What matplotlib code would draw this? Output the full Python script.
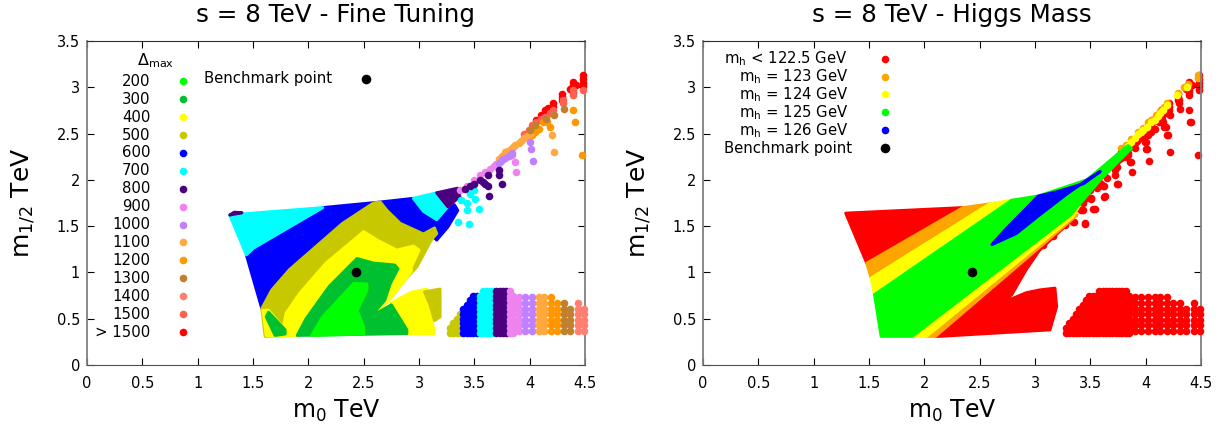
import matplotlib
matplotlib.use('Agg')
import matplotlib.pyplot as plt

# tick labels
xticks = [0, 0.5, 1, 1.5, 2, 2.5, 3, 3.5, 4, 4.5]
yticks = [0, 0.5, 1, 1.5, 2, 2.5, 3, 3.5]
xlabels = ['0', '0.5', '1', '1.5', '2', '2.5', '3', '3.5', '4', '4.5']
ylabels = ['0', '0.5', '1', '1.5', '2', '2.5', '3', '3.5']

benchmark = (2.43, 1.0)

# fine tuning bands
delta_labels = ['200', '300', '400', '500', '600', '700', '800', '900', '1000',
                '1100', '1200', '1300', '1400', '1500', '> 1500']
delta_colors = ['#00ff00', '#00c030', '#ffff00', '#c8c800', '#0000ff', '#00ffff',
                '#4b0082', '#ee82ee', '#c080ff', '#ffa840', '#ff9800', '#c08030',
                '#ff8070', '#ff6050', '#ff0000']

# higgs mass bands
mh_labels = ['m$_{\\mathrm{h}}$ < 122.5 GeV', 'm$_{\\mathrm{h}}$ = 123 GeV',
             'm$_{\\mathrm{h}}$ = 124 GeV', 'm$_{\\mathrm{h}}$ = 125 GeV',
             'm$_{\\mathrm{h}}$ = 126 GeV']
mh_colors = ['#ff0000', '#ffa500', '#ffff00', '#00ff00', '#0000ff']

# left panel, dense areas (m0, m1/2), back to front
ft_blue = [(1.44, 1.19), (2.13, 1.70), (2.65, 1.76), (2.95, 1.80), (3.16, 1.57), (3.32, 1.73),
           (3.35, 1.67), (3.26, 1.49), (3.16, 1.35), (3.10, 1.42), (2.60, 1.40), (1.58, 0.61)]
ft_cyan1 = [(1.29, 1.62), (2.13, 1.70), (1.50, 1.26), (1.44, 1.19)]
ft_cyan2 = [(2.95, 1.80), (3.16, 1.86), (3.26, 1.71), (3.16, 1.57), (3.04, 1.66)]
ft_purple1 = [(3.16, 1.86), (3.35, 1.91), (3.37, 1.82), (3.26, 1.71)]
ft_purple2 = [(1.29, 1.62), (1.40, 1.645), (1.33, 1.65)]
ft_olive = [(1.58, 0.61), (1.67, 0.81), (1.83, 1.03), (2.07, 1.28), (2.31, 1.53), (2.59, 1.75),
            (2.65, 1.76), (2.71, 1.67), (2.83, 1.53), (3.04, 1.415), (3.14, 1.48), (3.16, 1.42),
            (3.11, 1.35), (2.98, 1.06), (2.84, 0.88), (2.77, 0.76), (2.71, 0.68), (2.56, 0.52),
            (1.90, 0.32), (1.61, 0.31)]
ft_olive2 = [(3.05, 0.79), (3.19, 0.82), (3.19, 0.52), (3.14, 0.48), (3.10, 0.65)]
ft_yellow1 = [(1.59, 0.59), (1.64, 0.59), (1.79, 0.38), (1.79, 0.32), (1.70, 0.31), (1.62, 0.32)]
ft_yellow2 = [(1.77, 0.38), (1.80, 0.56), (1.92, 0.77), (2.16, 1.10), (2.50, 1.44), (2.62, 1.35),
              (2.80, 1.24), (2.95, 1.285), (3.00, 1.24), (2.93, 1.06), (2.93, 1.01), (2.77, 0.76),
              (2.71, 0.68), (2.56, 0.52), (1.90, 0.32), (1.77, 0.32)]
ft_yellow3 = [(2.75, 0.67), (2.93, 0.785), (3.07, 0.82), (3.11, 0.52), (3.14, 0.34), (2.89, 0.335),
              (2.89, 0.38)]
ft_dgreen = [(1.90, 0.32), (1.98, 0.50), (2.19, 0.85), (2.44, 1.15), (2.59, 1.10), (2.78, 1.08),
             (2.81, 1.04), (2.74, 0.88), (2.69, 0.70), (2.56, 0.52), (2.75, 0.65), (2.89, 0.38),
             (2.89, 0.34)]
ft_dgreen2 = [(1.64, 0.57), (1.79, 0.38), (1.79, 0.335), (1.70, 0.32), (1.62, 0.52)]
ft_green = [(2.03, 0.32), (2.13, 0.52), (2.41, 0.88), (2.53, 0.875), (2.53, 0.81), (2.44, 0.59),
            (2.50, 0.41), (2.50, 0.335)]

# right panel, dense areas
mh_red1 = [(1.29, 1.64), (2.35, 1.70), (1.48, 1.10)]
mh_orange1 = [(1.48, 1.10), (2.35, 1.70), (2.59, 1.74), (1.52, 0.94)]
mh_yellow1 = [(1.52, 0.94), (2.59, 1.74), (2.79, 1.78), (1.55, 0.76)]
mh_green = [(1.55, 0.76), (2.79, 1.78), (3.03, 1.825), (3.47, 2.00), (3.84, 2.37), (3.87, 2.34),
            (3.59, 2.00), (3.32, 1.62), (1.89, 0.31), (1.61, 0.31)]
mh_yellow2 = [(1.89, 0.31), (2.11, 0.52), (2.56, 0.94), (3.32, 1.62), (3.40, 1.72), (3.34, 1.60),
              (2.02, 0.31)]
mh_orange2 = [(2.02, 0.31), (3.34, 1.60), (3.38, 1.62), (2.10, 0.31)]
mh_red2 = [(2.10, 0.31), (3.345, 1.58), (3.04, 1.24), (2.92, 1.03), (2.79, 0.76), (2.55, 0.52),
           (2.74, 0.69), (2.92, 0.78), (3.04, 0.81), (3.18, 0.83), (3.195, 0.63), (3.135, 0.38),
           (2.14, 0.31)]
mh_blue = [(2.61, 1.30), (2.73, 1.46), (3.03, 1.825), (3.195, 1.87), (3.44, 1.96), (3.59, 2.09),
           (3.47, 2.00), (3.29, 1.85), (3.04, 1.62), (2.83, 1.42)]

# scan points at large m0 along the upper ridge
ridge_700 = [(3.35, 1.55), (3.45, 1.52), (3.43, 1.67), (3.54, 1.68), (3.51, 1.79), (3.43, 1.75),
             (3.50, 1.89), (3.38, 1.78), (3.46, 1.85)]
ridge_800 = [(3.75, 1.95), (3.72, 2.05), (3.72, 2.11), (3.63, 1.83), (3.62, 1.93), (3.62, 2.05),
             (3.55, 2.00), (3.46, 1.93), (3.50, 1.96), (3.58, 1.98), (3.60, 1.95), (3.42, 1.90)]
ridge_900 = [(3.88, 2.08), (3.87, 2.19), (3.84, 2.27), (3.37, 1.89), (3.43, 1.93), (3.50, 2.00),
             (3.55, 2.05), (3.60, 2.09), (3.64, 2.12), (3.68, 2.15), (3.70, 2.17), (3.74, 2.20)]
ridge_1000 = [(4.03, 2.20), (4.01, 2.33), (4.00, 2.41), (3.72, 2.18), (3.76, 2.22), (3.78, 2.24),
              (3.81, 2.26), (3.84, 2.29)]
ridge_1100 = [(4.22, 2.30), (4.20, 2.48), (3.72, 2.22), (3.75, 2.26), (3.78, 2.30), (3.80, 2.31),
              (3.83, 2.33), (3.85, 2.36), (3.87, 2.38), (3.90, 2.40), (3.92, 2.42), (3.95, 2.45),
              (3.98, 2.47), (4.00, 2.50)]
ridge_1200 = [(4.47, 2.27), (4.41, 2.62), (4.39, 2.75), (4.18, 2.57), (4.16, 2.63), (4.12, 2.62),
              (4.08, 2.55), (4.05, 2.52), (4.02, 2.48)]
ridge_1300 = [(4.31, 2.77), (4.22, 2.70), (4.15, 2.66), (4.05, 2.59), (4.00, 2.54)]
ridge_1500 = [(4.48, 2.97), (4.39, 2.97), (4.39, 2.92), (4.30, 2.86), (4.30, 2.83), (4.21, 2.75),
              (4.18, 2.72), (4.14, 2.68), (4.10, 2.66), (4.06, 2.63), (4.02, 2.59), (3.99, 2.54),
              (3.95, 2.50)]
ridge_red = [(4.48, 3.13), (4.48, 3.09), (4.48, 3.05), (4.48, 3.01), (4.39, 3.06), (4.39, 3.02),
             (4.42, 3.03), (4.36, 2.98), (4.39, 2.95), (4.29, 2.93), (4.29, 2.89), (4.29, 2.86),
             (4.21, 2.83), (4.21, 2.79), (4.17, 2.78), (4.14, 2.75), (4.14, 2.71), (4.14, 2.68),
             (4.10, 2.70), (4.06, 2.65)]

# extra red points, higgs panel only
mh_ridge_red = [(3.07, 1.30), (3.16, 1.39), (3.27, 1.51), (3.345, 1.55), (3.45, 1.53), (3.42, 1.67),
                (3.525, 1.68), (3.51, 1.80), (3.62, 1.82), (3.61, 1.93), (3.74, 1.95), (3.86, 2.19),
                (3.99, 2.41), (4.00, 2.33), (4.19, 2.48), (4.17, 2.57), (4.40, 2.62), (3.30, 1.60),
                (3.38, 1.70), (3.47, 1.80), (3.56, 1.91), (3.65, 2.02), (3.74, 2.14), (3.82, 2.25),
                (3.90, 2.34)]
mh_ridge_orange = [(3.78, 2.34), (3.82, 2.38), (3.87, 2.44), (3.93, 2.52), (3.98, 2.56), (4.02, 2.62),
                   (4.05, 2.65), (4.09, 2.70), (4.13, 2.74), (4.17, 2.79), (4.19, 2.83), (4.29, 2.94),
                   (4.35, 3.00), (4.38, 3.04), (4.47, 3.13), (4.47, 3.10)]
mh_ridge_yellow = [(3.84, 2.37), (3.87, 2.41), (3.90, 2.45), (3.93, 2.50), (3.96, 2.52), (3.98, 2.54),
                   (4.01, 2.57), (4.05, 2.62), (4.08, 2.65), (4.11, 2.69), (4.13, 2.72), (4.16, 2.76),
                   (4.19, 2.81), (4.28, 2.92), (4.37, 3.00)]

# lower right island: one scan column each, denser at small m0
island_x = [3.28, 3.31, 3.34, 3.37, 3.40, 3.43, 3.46, 3.49, 3.52, 3.55, 3.58, 3.61, 3.64, 3.67, 3.70,
            3.73, 3.76, 3.79, 3.82, 3.85]
island_top = [0.40, 0.46, 0.54, 0.58, 0.62, 0.66, 0.72, 0.76, 0.76, 0.78, 0.80, 0.82, 0.82, 0.82, 0.82,
              0.82, 0.82, 0.82, 0.82, 0.76]
island_band = [3, 3, 3, 3, 4, 4, 4, 4, 4, 5, 5, 5, 5, 5, 6, 6, 6, 6, 7, 7]
island_rows = [0.35, 0.40, 0.45, 0.50, 0.55, 0.60, 0.65, 0.70, 0.75, 0.80]

island2_x = [3.90, 3.96, 4.02, 4.08, 4.13, 4.19, 4.25, 4.31, 4.36, 4.44, 4.49]
island2_top = [0.76, 0.76, 0.77, 0.77, 0.75, 0.74, 0.70, 0.72, 0.62, 0.67, 0.66]
island2_band = [7, 8, 8, 9, 9, 10, 10, 11, 11, 12, 12]
island2_rows = [0.37, 0.43, 0.49, 0.55, 0.61, 0.67, 0.73]


def setup(ax, title):
    ax.set_xlim(0, 4.5)
    ax.set_ylim(0, 3.5)
    ax.set_xticks(xticks, xlabels)
    ax.set_yticks(yticks, ylabels)
    ax.tick_params(direction='in', top=True, right=True, length=5, width=0.8, labelsize=10.5, pad=5)
    ax.tick_params(axis='x', pad=8)
    ax.set_title(title, fontsize=17.7, pad=13.5)
    ax.set_xlabel('m$_0$ TeV', fontsize=17, labelpad=4.5)
    ax.set_ylabel('m$_{1/2}$ TeV', fontsize=18, labelpad=14)
    for side in ['left', 'right']:
        ax.spines[side].set_color('#808080')
        ax.spines[side].set_linewidth(1.3)
    ax.spines['top'].set_color('#303030')
    ax.spines['bottom'].set_color('#505050')


def area(ax, pts, color):
    ax.fill([p[0] for p in pts], [p[1] for p in pts], color=color, lw=2.2, joinstyle='round', zorder=2)


def dots(ax, pts, color, z=3):
    ax.scatter([p[0] for p in pts], [p[1] for p in pts], s=30, color=color, linewidths=0,
               clip_on=False, zorder=z)


fig = plt.figure(figsize=(12.23, 4.33), dpi=100)
ax1 = fig.add_axes([87 / 1223, 1 - 365 / 433, 498 / 1223, 324 / 433])
ax2 = fig.add_axes([703 / 1223, 1 - 365 / 433, 498 / 1223, 324 / 433])

# left panel
setup(ax1, 's = 8 TeV - Fine Tuning')
area(ax1, ft_blue, delta_colors[4])
area(ax1, ft_cyan1, delta_colors[5])
area(ax1, ft_cyan2, delta_colors[5])
area(ax1, ft_purple1, delta_colors[6])
area(ax1, ft_purple2, delta_colors[6])
area(ax1, ft_olive, delta_colors[3])
area(ax1, ft_yellow1, delta_colors[2])
area(ax1, ft_yellow2, delta_colors[2])
area(ax1, ft_yellow3, delta_colors[2])
area(ax1, ft_olive2, delta_colors[3])
area(ax1, ft_dgreen, delta_colors[1])
area(ax1, ft_dgreen2, delta_colors[1])
area(ax1, ft_green, delta_colors[0])
dots(ax1, ridge_700, delta_colors[5])
dots(ax1, ridge_red, delta_colors[14])
dots(ax1, ridge_1500, delta_colors[13])
dots(ax1, ridge_1200, delta_colors[10])
dots(ax1, ridge_1100, delta_colors[9])
dots(ax1, ridge_1300, delta_colors[11])
dots(ax1, ridge_900, delta_colors[7])
dots(ax1, ridge_1000, delta_colors[8])
dots(ax1, ridge_800, delta_colors[6])
for x, top, band in zip(island_x, island_top, island_band):
    dots(ax1, [(x, y) for y in island_rows if y <= top], delta_colors[band])
for x, top, band in zip(island2_x, island2_top, island2_band):
    dots(ax1, [(x, y) for y in island2_rows if y <= top], delta_colors[band])
ax1.scatter(*benchmark, s=48, color='black', linewidths=0, zorder=5)

ax1.text(0.62, 3.29, '$\\Delta_{\\mathrm{max}}$', fontsize=11.5, ha='center', va='center')
for i, (lab, col) in enumerate(zip(delta_labels, delta_colors)):
    y = 3.065 - i * 0.1935
    ax1.text(0.575, y, lab, fontsize=10.7, ha='right', va='center')
    ax1.scatter(0.87, y, s=30, color=col, linewidths=0, zorder=5)
ax1.text(1.06, 3.09, 'Benchmark point', fontsize=10.7, ha='left', va='center')
ax1.scatter(2.52, 3.09, s=48, color='black', linewidths=0, zorder=5)

# right panel, red scan points go under the dense bands
setup(ax2, 's = 8 TeV - Higgs Mass')
for pts in [ridge_700, ridge_800, ridge_900, ridge_1000, ridge_1100, ridge_1200, ridge_1300,
            ridge_1500, ridge_red, mh_ridge_red]:
    dots(ax2, pts, mh_colors[0], z=1)
dots(ax2, mh_ridge_orange, mh_colors[1], z=1.2)
dots(ax2, mh_ridge_yellow, mh_colors[2], z=1.4)
area(ax2, mh_red1, mh_colors[0])
area(ax2, mh_orange1, mh_colors[1])
area(ax2, mh_yellow1, mh_colors[2])
area(ax2, mh_red2, mh_colors[0])
area(ax2, mh_orange2, mh_colors[1])
area(ax2, mh_yellow2, mh_colors[2])
area(ax2, mh_green, mh_colors[3])
area(ax2, mh_blue, mh_colors[4])
for x, top in zip(island_x, island_top):
    dots(ax2, [(x, y) for y in island_rows if y <= top], mh_colors[0])
for x, top in zip(island2_x, island2_top):
    dots(ax2, [(x, y) for y in island2_rows if y <= top], mh_colors[0])
ax2.scatter(*benchmark, s=48, color='black', linewidths=0, zorder=5)

for i, (lab, col) in enumerate(zip(mh_labels, mh_colors)):
    y = 3.31 - i * 0.1935
    ax2.text(1.31, y, lab, fontsize=10.7, ha='right', va='center')
    ax2.scatter(1.644, y, s=30, color=col, linewidths=0, zorder=5)
ax2.text(1.35, 2.34, 'Benchmark point', fontsize=10.7, ha='right', va='center')
ax2.scatter(1.644, 2.34, s=48, color='black', linewidths=0, zorder=5)

fig.savefig('out.png', dpi=100)
